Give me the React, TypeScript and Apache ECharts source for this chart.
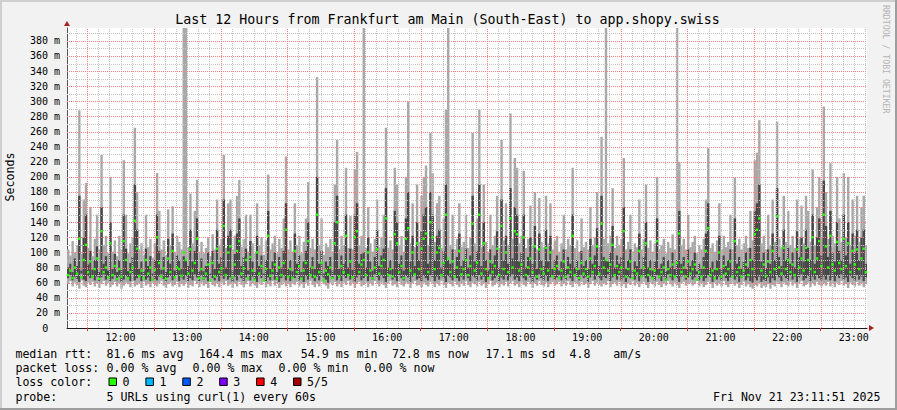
import React, { useEffect, useRef } from 'react';
import * as echarts from 'echarts';

const TITLE = 'Last 12 Hours from Frankfurt am Main (South-East) to app.shopy.swiss';
const START_MIN = 671.85; // 11:11:51 in minutes since midnight
const END_MIN = 1391.85; // 23:11:51
const STEP_MIN = 2;
const Y_MAX = 397;

const HOUR_LABELS = [720, 780, 840, 900, 960, 1020, 1080, 1140, 1200, 1260, 1320, 1380];
const HALF_HOURS = [690, 750, 810, 870, 930, 990, 1050, 1110, 1170, 1230, 1290, 1350];

// smoke: maximum of the pings per step (ms)
const hi = [
  104,96,115,100,110,288,98,170,192,106,160,95,118,150,104,229,110,122,99,200,
  101,116,95,122,104,222,150,99,112,120,265,180,104,112,97,150,107,118,93,112,
  205,155,104,116,97,157,110,161,101,122,114,104,500,500,107,178,112,155,196,101,
  114,99,106,120,95,124,104,170,110,118,229,106,165,170,104,122,175,196,107,118,
  150,101,150,112,99,165,110,120,97,116,203,104,112,122,99,118,106,145,227,104,
  116,101,165,110,122,99,114,145,193,106,118,104,332,110,145,97,112,107,118,101,
  190,249,104,122,110,212,106,148,104,210,233,110,122,500,106,160,112,101,118,170,
  107,120,150,265,106,116,104,212,190,110,122,101,200,300,112,165,107,190,114,175,
  200,215,110,258,205,114,165,175,106,145,289,500,110,150,104,118,165,107,114,150,
  106,120,258,112,145,289,107,190,114,101,150,110,122,175,106,249,116,165,110,284,
  118,225,212,112,122,208,106,118,162,110,180,104,172,114,107,175,112,165,104,116,
  122,101,112,150,104,118,110,212,106,116,101,145,107,114,104,160,110,120,180,107,
  253,118,500,112,122,185,106,122,110,118,225,104,114,150,101,112,107,170,104,118,
  190,106,116,101,112,200,104,110,118,99,114,106,124,104,500,220,110,118,104,150,
  107,114,122,99,110,104,118,170,238,106,112,101,116,165,104,122,107,114,150,104,
  199,110,118,104,112,122,106,155,116,222,232,275,112,122,104,150,110,170,114,273,
  118,107,175,114,155,110,122,106,170,118,162,112,175,155,114,210,110,160,200,120,
  293,180,118,218,122,112,200,145,114,205,120,200,110,170,122,175,114,160,175,110,
];

// smoke: minimum of the pings per step (ms)
const lo = [
  58,62,55,60,57,52,63,56,54,60,57,61,55,59,53,58,62,56,60,54,
  57,61,55,59,52,56,60,58,54,62,55,57,59,53,61,56,58,54,60,57,
  55,59,62,56,53,58,60,55,57,61,54,58,56,60,53,57,55,62,58,54,
  60,56,58,53,61,57,55,59,54,60,57,62,56,58,53,59,55,61,57,54,
  58,62,55,59,56,53,60,57,61,54,58,55,62,56,59,53,57,60,55,58,
  54,59,57,61,55,58,53,60,56,62,57,54,59,55,61,58,56,52,60,57,
  61,55,58,54,60,57,62,56,59,53,58,61,55,57,60,54,59,56,62,58,
  55,60,57,53,59,62,56,58,54,61,57,55,60,58,53,59,62,56,57,54,
  60,57,55,61,58,54,59,56,62,57,53,60,58,55,61,57,54,59,56,62,
  57,54,60,58,55,61,56,59,53,58,62,55,57,60,54,58,56,61,55,59,
  62,56,58,54,60,57,55,61,58,53,59,56,62,57,55,60,54,58,61,56,
  58,61,55,59,56,62,57,54,60,58,55,61,57,59,53,58,62,56,60,57,
  55,59,57,62,54,58,60,56,61,55,58,53,59,57,62,56,60,54,58,61,
  57,53,60,58,55,61,57,54,59,56,62,58,55,60,57,53,59,61,56,58,
  60,56,58,62,55,59,54,57,61,58,53,60,56,59,55,62,57,54,58,60,
  56,59,53,57,61,55,58,54,52,57,55,59,53,56,54,58,52,57,55,60,
  58,54,60,57,55,61,56,59,53,58,62,55,57,60,54,59,56,61,57,55,
  59,56,61,55,58,54,60,57,62,56,58,53,60,57,55,61,56,59,54,58,
];

// dense core of the smoke: lower edge (ms)
const dlo = [
  66,70,63,68,65,61,72,64,62,69,66,70,63,68,62,67,71,64,69,62,
  65,70,63,68,61,64,69,66,62,71,63,66,68,62,70,64,67,62,69,65,
  63,68,71,65,62,67,69,63,66,70,62,67,64,69,62,66,63,71,67,62,
  69,64,67,62,70,66,63,68,62,69,65,71,64,67,61,68,63,70,66,62,
  67,71,63,68,64,61,69,66,70,62,67,63,71,64,68,61,66,69,63,67,
  62,68,66,70,63,67,61,69,64,71,66,62,68,63,70,67,64,60,69,65,
  70,63,67,62,69,66,71,64,68,61,67,70,63,66,69,62,68,64,71,67,
  63,69,66,61,68,71,64,67,62,70,66,63,69,67,61,68,71,64,66,62,
  69,66,63,70,67,62,68,64,71,66,61,69,67,63,70,66,62,68,64,71,
  66,62,69,67,63,70,64,68,61,67,71,63,66,69,62,67,64,70,63,68,
  71,64,67,62,69,66,63,70,67,61,68,64,71,66,63,69,62,67,70,64,
  67,70,63,68,64,71,66,62,69,67,63,70,66,68,61,67,71,64,69,66,
  63,68,66,71,62,67,69,64,70,63,67,61,68,66,71,64,69,62,67,70,
  66,61,69,67,63,70,66,62,68,64,71,67,63,69,66,61,68,70,64,67,
  69,64,67,71,63,68,62,66,70,67,61,69,64,68,63,71,66,62,67,69,
  64,68,61,66,70,63,67,62,60,66,63,68,61,64,62,67,60,66,63,69,
  67,62,69,66,63,70,64,68,61,67,71,63,66,69,62,68,64,70,66,63,
  68,64,70,63,67,62,69,66,71,64,67,61,69,66,63,70,64,68,62,67,
];

// dense core of the smoke: upper edge (ms)
const dhi = [
  80,85,74,92,82,175,76,120,150,84,102,77,90,108,74,160,85,95,76,140,
  78,98,74,90,77,150,105,75,86,94,190,130,78,88,75,105,82,95,72,90,
  150,102,77,94,74,118,85,125,76,96,90,78,95,90,82,130,88,102,145,75,
  92,75,82,100,72,102,78,130,85,94,170,80,122,130,76,98,125,145,82,94,
  105,76,115,88,74,122,82,96,72,90,155,78,88,100,74,94,80,102,165,78,
  90,75,125,85,96,74,88,102,140,80,94,78,200,85,102,72,88,82,94,76,
  140,175,78,96,85,150,80,105,77,150,165,85,98,100,80,120,88,76,94,130,
  82,96,105,185,80,90,78,155,140,85,96,76,145,180,88,122,82,140,90,128,
  150,160,85,180,150,90,122,130,80,102,190,90,85,104,78,94,125,82,90,105,
  80,96,175,88,102,190,82,140,90,76,104,85,96,128,80,170,90,122,85,185,
  92,160,150,88,100,150,80,94,120,85,135,78,125,90,82,130,88,122,78,90,
  96,76,88,104,78,94,85,150,80,90,77,102,82,90,78,118,85,96,132,82,
  175,94,90,88,100,135,80,96,85,94,160,78,90,104,76,88,82,125,78,94,
  140,80,90,76,88,145,78,85,94,75,90,80,100,78,90,155,85,94,78,104,
  82,90,100,75,85,78,94,125,165,80,88,77,90,122,78,96,82,90,104,78,
  145,85,94,78,88,100,80,106,90,155,165,190,88,100,79,104,85,125,90,185,
  94,82,130,90,106,85,100,80,128,94,120,88,130,106,90,150,85,120,145,96,
  195,135,94,155,100,88,140,102,90,150,96,140,85,125,100,130,90,120,130,85,
];

// median rtt per step (ms)
const med = [
  70,76,66,80,72,118,67,90,110,74,88,68,78,92,65,128,74,80,67,112,
  70,82,65,78,68,115,90,66,74,80,142,105,69,76,66,90,72,80,64,77,
  120,86,68,79,65,92,74,102,67,80,78,69,100,90,72,104,76,86,118,66,
  78,66,72,84,63,86,68,105,74,79,135,70,100,108,67,84,102,115,72,79,
  90,66,94,76,64,100,72,82,63,78,122,69,76,84,65,80,70,86,130,68,
  78,66,102,74,82,65,76,86,115,70,80,68,150,74,86,63,76,71,80,66,
  112,140,68,82,74,122,70,88,67,120,128,74,84,90,70,100,76,66,80,104,
  72,82,90,145,70,78,68,124,112,74,82,66,118,132,76,100,71,112,78,105,
  118,125,74,140,120,78,100,106,70,86,150,92,74,88,68,80,102,71,78,90,
  70,82,138,76,86,150,72,112,78,66,88,74,82,105,70,135,78,100,74,145,
  80,128,124,76,84,120,70,80,92,74,108,68,104,78,72,106,76,100,68,78,
  82,66,76,88,68,80,74,122,70,78,66,86,72,78,68,92,74,82,108,72,
  138,80,90,76,84,110,70,82,74,80,128,68,78,88,66,76,72,102,68,80,
  112,70,78,66,76,115,68,74,80,64,78,70,84,68,86,125,74,80,68,88,
  72,78,84,64,74,68,80,102,132,70,76,66,78,100,68,82,72,78,88,68,
  115,74,80,68,76,84,70,90,78,124,130,145,76,84,69,88,74,102,78,148,
  80,72,106,78,90,74,84,70,104,80,92,76,106,90,78,120,74,92,115,82,
  150,108,80,122,84,76,114,86,78,118,82,112,74,102,84,104,78,92,105,74,
];

const LEGEND_ROW1 = [
  ['median rtt:', 15.4], ['81.6 ms avg', 106.6], ['164.4 ms max', 198.7], ['54.9 ms min', 300.8],
  ['72.8 ms now', 391.9], ['17.1 ms sd', 485.4], ['4.8', 569.5], ['am/s', 613.2],
];
const LEGEND_ROW2 = [
  ['packet loss:', 15.4], ['0.00 % avg', 106.6], ['0.00 % max', 192.6], ['0.00 % min', 278.6], ['0.00 % now', 364.6],
];
const LOSS_LABELS = ['0', '1', '2', '3', '4', '5/5'];
const LOSS_COLORS = ['#26ff00', '#00b8ff', '#0059ff', '#7e00ff', '#ff0000', '#a10000'];
const PROBE_TEXT = '5 URLs using curl(1) every 60s';
const DATE_TEXT = 'Fri Nov 21 23:11:51 2025';

const MONO = '"DejaVu Sans Mono", monospace';
const LEGEND_SIZE = 11.6;
const GRID_GRAY = '#c4c4c4';
const GRID_RED = '#ff8080';

function gridSeries(name: string, values: number[], vertical: boolean, color: string) {
  return {
    type: 'custom',
    name,
    silent: true,
    clip: true,
    z: 3,
    data: values.map((v) => (vertical ? [v, 1] : [START_MIN, v])),
    renderItem: (params: any, api: any) => {
      if (vertical) {
        const t = api.value(0);
        const a = api.coord([t, 0]);
        const b = api.coord([t, Y_MAX]);
        const x = Math.round(a[0]) + 0.5;
        return {
          type: 'line',
          shape: { x1: x, y1: a[1], x2: x, y2: b[1] },
          style: { stroke: color, lineWidth: 1, lineDash: [1, 1] },
        };
      }
      const v = api.value(1);
      const a = api.coord([START_MIN, v]);
      const b = api.coord([END_MIN, v]);
      const y = Math.round(a[1]) + 0.5;
      return {
        type: 'line',
        shape: { x1: a[0], y1: y, x2: b[0], y2: y },
        style: { stroke: color, lineWidth: 1, lineDash: [1, 1] },
      };
    },
  };
}

export default function App() {
  const ref = useRef<HTMLDivElement>(null);

  useEffect(() => {
    if (!ref.current) return;
    const chart = echarts.init(ref.current, null, { renderer: 'svg' });

    const smokeData = hi.map((h, i) => [START_MIN + STEP_MIN * i, lo[i], dlo[i], dhi[i], h]);
    const medData = med.map((m, i) => [START_MIN + STEP_MIN * i + STEP_MIN / 2, m]);

    const vMinor: number[] = [];
    for (let t = 680; t < END_MIN; t += 10) if (!HALF_HOURS.includes(t)) vMinor.push(t);
    const hMinor: number[] = [];
    const hMajor: number[] = [];
    for (let v = 10; v < Y_MAX; v += 10) (v % 20 === 0 ? hMajor : hMinor).push(v);

    const txt = (text: string, x: number, y: number, size: number, extra: any = {}) => ({
      type: 'text',
      x,
      y,
      silent: true,
      style: {
        text,
        font: `${size}px ${MONO}`,
        fill: '#000',
        align: 'left',
        verticalAlign: 'middle',
        ...extra,
      },
    });

    const graphics: any[] = [
      { type: 'rect', shape: { x: 0, y: 0, width: 897, height: 2 }, style: { fill: '#cfcfcf' }, silent: true },
      { type: 'rect', shape: { x: 0, y: 0, width: 2, height: 410 }, style: { fill: '#cfcfcf' }, silent: true },
      { type: 'rect', shape: { x: 0, y: 408, width: 897, height: 2 }, style: { fill: '#9e9e9e' }, silent: true },
      { type: 'rect', shape: { x: 895, y: 0, width: 2, height: 410 }, style: { fill: '#9e9e9e' }, silent: true },
      txt(TITLE, 447.5, 19, 13.3, { align: 'center' }),
      {
        type: 'text', x: 10, y: 177, rotation: Math.PI / 2, silent: true,
        style: { text: 'Seconds', font: `${LEGEND_SIZE}px ${MONO}`, fill: '#000', align: 'center', verticalAlign: 'middle' },
      },
      {
        type: 'text', x: 886, y: 5, rotation: -Math.PI / 2, silent: true,
        style: { text: 'RRDTOOL / TOBI OETIKER', font: `8.2px ${MONO}`, fill: '#b4b4b4', align: 'left', verticalAlign: 'middle' },
      },
      { type: 'polygon', shape: { points: [[64, 26], [70, 26], [67, 21]] }, style: { fill: '#aa1f1f' }, silent: true },
      { type: 'polygon', shape: { points: [[869, 325], [869, 331], [874, 328]] }, style: { fill: '#aa1f1f' }, silent: true },
      txt('0', 45.2, 328, 10, { align: 'center' }),
    ];
    LEGEND_ROW1.forEach(([t, x]) => graphics.push(txt(t as string, x as number, 354, LEGEND_SIZE)));
    LEGEND_ROW2.forEach(([t, x]) => graphics.push(txt(t as string, x as number, 368.3, LEGEND_SIZE)));
    graphics.push(txt('loss color:', 15.4, 382.3, LEGEND_SIZE));
    LOSS_LABELS.forEach((lab, k) => {
      const bx = 109 + 36.9 * k;
      graphics.push({
        type: 'rect', silent: true,
        shape: { x: bx, y: 378, width: 7.5, height: 7.5 },
        style: { fill: LOSS_COLORS[k], stroke: '#000', lineWidth: 1 },
      });
      graphics.push(txt(lab, bx + 13.6, 382.3, LEGEND_SIZE));
    });
    graphics.push(txt('probe:', 15.4, 396.7, LEGEND_SIZE));
    graphics.push(txt(PROBE_TEXT, 106.6, 396.7, LEGEND_SIZE));
    graphics.push(txt(DATE_TEXT, 880.5, 396.7, LEGEND_SIZE, { align: 'right' }));

    const option: any = {
      animation: false,
      backgroundColor: '#f2f2f2',
      grid: {
        left: 67, top: 28, width: 800, height: 300,
        show: true, backgroundColor: '#ffffff', borderWidth: 0,
      },
      xAxis: {
        type: 'value',
        min: START_MIN,
        max: END_MIN,
        splitLine: { show: false },
        axisLine: { show: true, lineStyle: { color: '#1a1a1a', width: 1 } },
        axisTick: {
          show: true, customValues: HALF_HOURS, length: 3,
          lineStyle: { color: '#ff3030' },
        },
        axisLabel: {
          customValues: HOUR_LABELS,
          margin: 4,
          fontFamily: MONO,
          fontSize: 10,
          color: '#000000',
          formatter: (v: number) => `${Math.round(v / 60)}:00`,
        },
      },
      yAxis: {
        type: 'value',
        min: 0,
        max: Y_MAX,
        interval: 20,
        splitLine: { show: false },
        axisLine: { show: true, lineStyle: { color: '#555555', width: 1 } },
        axisTick: { show: false },
        axisLabel: {
          margin: 7,
          fontFamily: MONO,
          fontSize: 10,
          color: '#000000',
          showMaxLabel: false,
          formatter: (v: number) => (v % 20 !== 0 || v === 0 ? '' : `${v} m`),
        },
      },
      graphic: graphics,
      series: [
        {
          type: 'custom',
          name: 'smoke',
          silent: true,
          clip: true,
          z: 2,
          data: smokeData,
          renderItem: (params: any, api: any) => {
            const t = api.value(0);
            const x0 = api.coord([t, 0])[0];
            const x1 = api.coord([t + STEP_MIN, 0])[0];
            const yv = (v: number) => api.coord([t, Math.min(v, Y_MAX)])[1];
            const yLo = yv(api.value(1));
            const yDlo = yv(api.value(2));
            const yDhi = yv(api.value(3));
            const yHi = yv(api.value(4));
            return {
              type: 'group',
              children: [
                { type: 'rect', shape: { x: x0, y: yHi, width: x1 - x0 + 0.2, height: yLo - yHi }, style: { fill: '#a8a8a8' } },
                { type: 'rect', shape: { x: x0, y: yDhi, width: x1 - x0 + 0.2, height: yDlo - yDhi }, style: { fill: '#474747' } },
              ],
            };
          },
        },
        gridSeries('vminor', vMinor, true, GRID_GRAY),
        gridSeries('hminor', hMinor, false, GRID_GRAY),
        gridSeries('vmajor', HALF_HOURS, true, GRID_RED),
        gridSeries('hmajor', hMajor, false, GRID_RED),
        {
          type: 'scatter',
          name: 'median',
          silent: true,
          z: 4,
          symbol: 'rect',
          symbolSize: [2.4, 2.4],
          itemStyle: { color: '#22ff00', opacity: 1 },
          data: medData,
        },
      ],
    };

    chart.setOption(option);
    return () => chart.dispose();
  }, []);

  return <div ref={ref} style={{ position: 'absolute', left: 0, top: 0, width: 897, height: 410 }} />;
}
